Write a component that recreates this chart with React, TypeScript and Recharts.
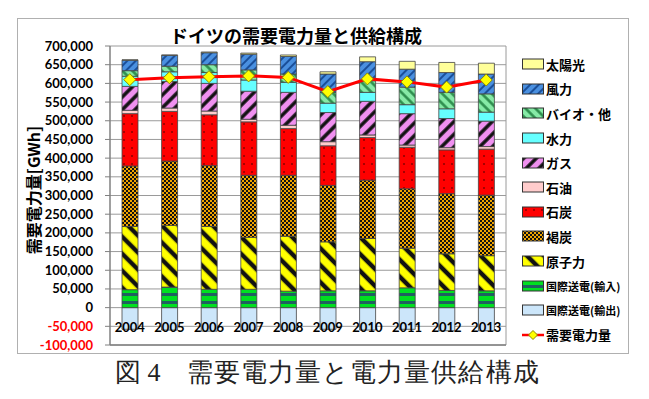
import React from 'react';
import { ComposedChart, Bar, Line, XAxis, YAxis, CartesianGrid } from 'recharts';

const years = ['2004', '2005', '2006', '2007', '2008', '2009', '2010', '2011', '2012', '2013'];
const exportVals = [-58000, -60000, -63000, -60000, -60000, -58000, -60000, -58000, -62000, -62000];
const importVals = [48000, 55000, 49000, 49000, 44000, 45000, 45000, 53000, 46000, 45000];
const nuclear = [169000, 165000, 168000, 139000, 147000, 131000, 140000, 106000, 98000, 94000];
const lignite = [162000, 172000, 163000, 166000, 163000, 151000, 156000, 159000, 161000, 162000];
const coal = [140000, 133000, 136000, 143000, 125000, 106000, 114000, 111000, 117000, 123000];
const oil = [9000, 9000, 10000, 7000, 9000, 11000, 7000, 6000, 6000, 7000];
const gas = [64000, 71000, 74000, 75000, 88000, 78000, 90000, 84000, 78000, 68000];
const hydro = [27000, 26000, 29000, 30000, 27000, 25000, 24000, 24000, 26000, 24000];
const bio = [15000, 15000, 21000, 27000, 22000, 29000, 31000, 47000, 44000, 49000];
const wind = [28000, 29000, 32000, 42000, 47000, 49000, 51000, 48000, 53000, 53000];
const solar = [1000, 1000, 2000, 3000, 4000, 6000, 13000, 21000, 27000, 29000];
const demand = [610000, 615000, 618000, 620000, 616000, 578000, 612000, 604000, 590000, 609000];
const yTicks = [-100000, -50000, 0, 50000, 100000, 150000, 200000, 250000, 300000, 350000, 400000, 450000, 500000, 550000, 600000, 650000, 700000];

const data = years.map((year, i) => ({
  year,
  export: exportVals[i],
  import: importVals[i],
  nuclear: nuclear[i],
  lignite: lignite[i],
  coal: coal[i],
  oil: oil[i],
  gas: gas[i],
  hydro: hydro[i],
  bio: bio[i],
  wind: wind[i],
  solar: solar[i],
  demand: demand[i],
}));

// bottom to top stack order
const series = [
  { key: 'export', name: '国際送電(輸出)', fill: '#cce6fa', small: true },
  { key: 'import', name: '国際送電(輸入)', fill: 'url(#pImport)', small: true },
  { key: 'nuclear', name: '原子力', fill: 'url(#pNuclear)' },
  { key: 'lignite', name: '褐炭', fill: 'url(#pLignite)' },
  { key: 'coal', name: '石炭', fill: 'url(#pCoal)' },
  { key: 'oil', name: '石油', fill: '#ffcccc' },
  { key: 'gas', name: 'ガス', fill: 'url(#pGas)' },
  { key: 'hydro', name: '水力', fill: '#66ffff' },
  { key: 'bio', name: 'バイオ・他', fill: 'url(#pBio)' },
  { key: 'wind', name: '風力', fill: 'url(#pWind)' },
  { key: 'solar', name: '太陽光', fill: '#ffff99' },
];

const jp = '"Noto Sans CJK JP", sans-serif';
const num = 'Lato, "Liberation Sans", sans-serif';

const Patterns = () => (
  <svg width={0} height={0} style={{ position: 'absolute' }}>
    <defs>
      <pattern id="pWind" width={6} height={6} patternUnits="userSpaceOnUse" patternTransform="rotate(45)">
        <rect width={6} height={6} fill="#4a90e0" />
        <line x1={1} y1={0} x2={1} y2={6} stroke="#1a4f9a" strokeWidth={2} />
      </pattern>
      <pattern id="pBio" width={7} height={7} patternUnits="userSpaceOnUse" patternTransform="rotate(-45)">
        <rect width={7} height={7} fill="#86eaa6" />
        <line x1={1.5} y1={0} x2={1.5} y2={7} stroke="#2a8a4a" strokeWidth={2.5} />
      </pattern>
      <pattern id="pGas" width={9} height={9} patternUnits="userSpaceOnUse" patternTransform="rotate(45)">
        <rect width={9} height={9} fill="#f090f0" />
        <line x1={2} y1={0} x2={2} y2={9} stroke="#111" strokeWidth={3.5} />
      </pattern>
      <pattern id="pNuclear" width={12} height={12} patternUnits="userSpaceOnUse" patternTransform="rotate(-45)">
        <rect width={12} height={12} fill="#ffff00" />
        <line x1={3} y1={0} x2={3} y2={12} stroke="#111" strokeWidth={4.5} />
      </pattern>
      <pattern id="pLignite" width={4} height={4} patternUnits="userSpaceOnUse">
        <rect width={4} height={4} fill="#f0a400" />
        <rect x={0} y={0} width={2} height={2} fill="#111" />
        <rect x={2} y={2} width={2} height={2} fill="#111" />
      </pattern>
      <pattern id="pCoal" width={8} height={8} patternUnits="userSpaceOnUse">
        <rect width={8} height={8} fill="#ff0000" />
        <circle cx={4} cy={4} r={1} fill="#8a0000" />
      </pattern>
      <pattern id="pImport" width={8} height={8} patternUnits="userSpaceOnUse">
        <rect width={8} height={8} fill="#00e020" />
        <rect x={0} y={5} width={8} height={3} fill="#1f6060" />
      </pattern>
    </defs>
  </svg>
);

const YTick = (props: any) => {
  const { x, y, payload } = props;
  const v = payload.value as number;
  return (
    <text x={x} y={y} dy={4.5} textAnchor="end" fontFamily={num} fontWeight={700} fontSize={13}
      fill={v < 0 ? '#ff0000' : '#000'}>
      {v.toLocaleString('en-US')}
    </text>
  );
};

const XTick = (props: any) => {
  const { x, y, payload } = props;
  return (
    <text x={x} y={y} dy={-13} textAnchor="middle" fontFamily={num} fontWeight={700} fontSize={13} fill="#000">
      {payload.value}
    </text>
  );
};

const Diamond = (props: any) => {
  const { cx, cy } = props;
  if (cx == null || cy == null) return null;
  return (
    <polygon points={`${cx},${cy - 6} ${cx + 6},${cy} ${cx},${cy + 6} ${cx - 6},${cy}`}
      fill="#ffff00" stroke="#8a8a00" strokeWidth={1} />
  );
};

const legendItems = [...series].reverse();

const ChartLegend = () => (
  <div style={{ position: 'absolute', left: 522, top: 52 }}>
    {legendItems.map((s) => (
      <div key={s.key} style={{ height: 24.6, display: 'flex', alignItems: 'center' }}>
        <svg width={22} height={12} style={{ marginRight: 2 }}>
          <rect x={0.5} y={1} width={21} height={10} fill={s.fill} stroke="#333" strokeWidth={1} />
        </svg>
        <span style={{ fontFamily: jp, fontWeight: 700, fontSize: s.small ? 11 : 13, color: '#000', whiteSpace: 'nowrap' }}>
          {s.name}
        </span>
      </div>
    ))}
    <div style={{ height: 24.6, display: 'flex', alignItems: 'center' }}>
      <svg width={22} height={12} style={{ marginRight: 2 }}>
        <line x1={0} y1={6} x2={22} y2={6} stroke="#ff0000" strokeWidth={2.5} />
        <polygon points="11,1.5 15.5,6 11,10.5 6.5,6" fill="#ffff00" stroke="#8a8a00" strokeWidth={1} />
      </svg>
      <span style={{ fontFamily: jp, fontWeight: 700, fontSize: 13, color: '#000' }}>需要電力量</span>
    </div>
  </div>
);

export default function App() {
  return (
    <div style={{ position: 'absolute', left: 0, top: 0, width: 649, height: 399, background: '#fff' }}>
      <Patterns />
      <div style={{ position: 'absolute', left: 17, top: 18, width: 610, height: 334, border: '1.5px solid #b0b0b0' }} />
      <div style={{ position: 'absolute', left: 160, top: 22, width: 272, textAlign: 'center', fontFamily: jp, fontWeight: 700, fontSize: 18, lineHeight: '26px' }}>
        ドイツの需要電力量と供給構成
      </div>
      <div style={{ position: 'absolute', left: 33, top: 190, width: 0, height: 0 }}>
        <div style={{ position: 'absolute', transform: 'translate(-50%, -50%) rotate(-90deg)', whiteSpace: 'nowrap', fontFamily: jp, fontWeight: 700, fontSize: 16 }}>
          需要電力量[GWh]
        </div>
      </div>
      <div style={{ position: 'absolute', left: 0, top: 0 }}>
        <ComposedChart width={649} height={399} data={data} stackOffset="sign" barCategoryGap={0}
          margin={{ top: 46, right: 143, bottom: 24, left: 0 }}>
          <CartesianGrid stroke="#9a9a9a" strokeWidth={1}
            verticalCoordinatesGenerator={(p: any) => [p.offset.left + p.offset.width]} />
          <XAxis dataKey="year" height={30} tickLine={false} tickSize={0} tickMargin={0}
            axisLine={{ stroke: '#808080', strokeWidth: 1.5 }} tick={<XTick />} interval={0} />
          <YAxis domain={[-100000, 700000]} ticks={yTicks} width={110} tickSize={5} tickMargin={12}
            tickLine={{ stroke: '#808080' }} axisLine={{ stroke: '#808080', strokeWidth: 1.5 }}
            tick={<YTick />} interval={0} />
          {series.map((s) => (
            <Bar key={s.key} dataKey={s.key} name={s.name} stackId="a" fill={s.fill} barSize={16}
              stroke="#444" strokeWidth={0.8} isAnimationActive={false} />
          ))}
          <Line dataKey="demand" name="需要電力量" type="linear" stroke="#ff0000" strokeWidth={3}
            dot={<Diamond />} activeDot={false} isAnimationActive={false} />
        </ComposedChart>
      </div>
      <ChartLegend />
      <div style={{ position: 'absolute', left: 115, top: 357, whiteSpace: 'nowrap', fontFamily: 'serif', fontSize: 26, lineHeight: '32px', color: '#222' }}>
        <span>図 4</span>
        <span style={{ marginLeft: 26, letterSpacing: 1.1 }}>需要電力量と電力量供給構成</span>
      </div>
    </div>
  );
}
